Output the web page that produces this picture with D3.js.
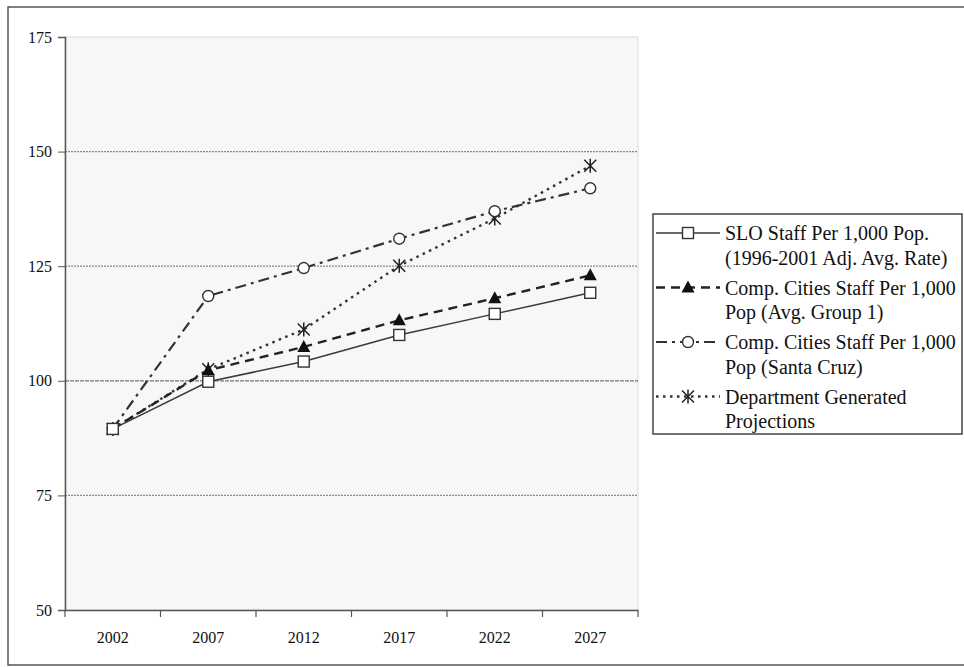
<!DOCTYPE html>
<html><head><meta charset="utf-8">
<script src="https://cdn.jsdelivr.net/npm/d3@7"></script>
<style>body{margin:0;background:#fff}svg{display:block}text{font-family:"Liberation Serif","Times New Roman",serif;fill:#111}</style>
</head><body><svg id="c" width="964" height="667"></svg>
<script>
const years = ["2002","2007","2012","2017","2022","2027"];
const yTicks = [50,75,100,125,150,175];
const sloStaff = [89.5, 99.8, 104.2, 110.0, 114.6, 119.2];
const group1Staff = [89.5, 102.3, 107.4, 113.2, 118.0, 123.0];
const santaCruzStaff = [89.5, 118.5, 124.6, 131.0, 137.0, 142.0];
const deptProjections = [89.5, 102.5, 111.2, 125.1, 135.4, 146.9];
const legendLabels = [
  ["SLO Staff Per 1,000 Pop.", "(1996-2001 Adj. Avg.  Rate)"],
  ["Comp. Cities Staff Per 1,000", "Pop (Avg. Group 1)"],
  ["Comp. Cities Staff Per 1,000", "Pop (Santa Cruz)"],
  ["Department Generated", "Projections"]
];

const svg = d3.select("#c");
const L = 65, R = 638, T = 37, B = 610;
svg.append("rect").attr("x",8).attr("y",7).attr("width",970).attr("height",658)
  .attr("fill","#fff").attr("stroke","#555").attr("stroke-width",1.5);
svg.append("rect").attr("x",L).attr("y",T).attr("width",R-L).attr("height",B-T)
  .attr("fill","#f7f7f7").attr("stroke","#dcdcdc").attr("stroke-width",1);

const x = d3.scaleBand().domain(years).range([L,R]).padding(0);
const y = d3.scaleLinear().domain([50,175]).range([B,T]);

// gridlines
svg.append("g").selectAll("line").data(yTicks.filter(v=>v>50 && v<175)).join("line")
  .attr("x1",L).attr("x2",R).attr("y1",d=>y(d)).attr("y2",d=>y(d))
  .attr("stroke",d=>d===100?"#777":"#8a8a8a").attr("stroke-width",1.2)
  .attr("stroke-dasharray",d=>d===100?"4,1":"2,1");

// y axis
const ya = svg.append("g").attr("transform",`translate(${L},0)`)
  .call(d3.axisLeft(y).tickValues(yTicks).tickSize(7).tickPadding(6));
ya.select(".domain").attr("stroke","#555").attr("stroke-width",1.5);
ya.selectAll(".tick line").attr("stroke","#555");
ya.selectAll(".tick text").attr("font-size",16).attr("font-family","Liberation Serif").attr("fill","#111");

// x axis
const xa = svg.append("g").attr("transform",`translate(0,${B})`)
  .call(d3.axisBottom(x).tickSize(0).tickPadding(22));
xa.select(".domain").attr("stroke","#555").attr("stroke-width",1.5);
xa.selectAll(".tick text").attr("font-size",16).attr("font-family","Liberation Serif").attr("fill","#111");
const bounds = years.map(d=>x(d)).concat([R]);
xa.selectAll("line.bt").data(bounds).join("line").attr("class","bt")
  .attr("x1",d=>d).attr("x2",d=>d).attr("y1",0).attr("y2",7).attr("stroke","#555").attr("stroke-width",1.2);

const cx = d => x(d) + x.bandwidth()/2;
const series = [
  {vals: sloStaff, dash: null, width: 1.5, color: "#3a3a3a", mark: "square"},
  {vals: group1Staff, dash: "9,6", width: 2.4, color: "#222", mark: "triangle"},
  {vals: santaCruzStaff, dash: "11,5,3,5", width: 2.2, color: "#333", mark: "circle"},
  {vals: deptProjections, dash: "2.5,4.5", width: 2.4, color: "#333", mark: "asterisk"}
];
const line = d3.line().x((v,i)=>cx(years[i])).y(v=>y(v));

function drawMark(g, type, px, py){
  if(type==="square"){
    g.append("rect").attr("x",px-5.5).attr("y",py-5.5).attr("width",11).attr("height",11)
      .attr("fill","#fff").attr("stroke","#333").attr("stroke-width",1.4);
  } else if(type==="triangle"){
    g.append("path").attr("d",`M${px},${py-7}L${px+6.5},${py+5}L${px-6.5},${py+5}Z`).attr("fill","#111");
  } else if(type==="circle"){
    g.append("circle").attr("cx",px).attr("cy",py).attr("r",5.5).attr("fill","#fff")
      .attr("stroke","#333").attr("stroke-width",1.4);
  } else {
    g.append("path").attr("d",`M${px-6},${py-6}L${px+6},${py+6}M${px+6},${py-6}L${px-6},${py+6}M${px},${py-7}L${px},${py+7}`)
      .attr("stroke","#222").attr("stroke-width",1.5).attr("fill","none");
  }
}

series.slice().reverse().forEach(s=>{
  svg.append("path").attr("d",line(s.vals)).attr("fill","none").attr("stroke",s.color)
    .attr("stroke-width",s.width).attr("stroke-dasharray",s.dash);
});
series.slice().reverse().forEach(s=>{
  const g = svg.append("g");
  s.vals.forEach((v,i)=>drawMark(g, s.mark, cx(years[i]), y(v)));
});

// legend
const lg = svg.append("g");
const lx = 653, ly = 214, lw = 309, lh = 220;
lg.append("rect").attr("x",lx).attr("y",ly).attr("width",lw).attr("height",lh)
  .attr("fill","#fff").attr("stroke","#444").attr("stroke-width",1.5);
const lineH = 24.5, entryH = 54.5;
legendLabels.forEach((lab,i)=>{
  const cy = ly + 19 + i*entryH;
  const s = series[i];
  lg.append("line").attr("x1",lx+3).attr("x2",lx+67).attr("y1",cy).attr("y2",cy)
    .attr("stroke",s.color).attr("stroke-width",s.width).attr("stroke-dasharray",s.dash);
  drawMark(lg, s.mark, lx+35, cy);
  lab.forEach((t,j)=>{
    lg.append("text").attr("x",lx+72).attr("y",cy+7+j*lineH).attr("font-size",20).text(t);
  });
});
</script></body></html>
